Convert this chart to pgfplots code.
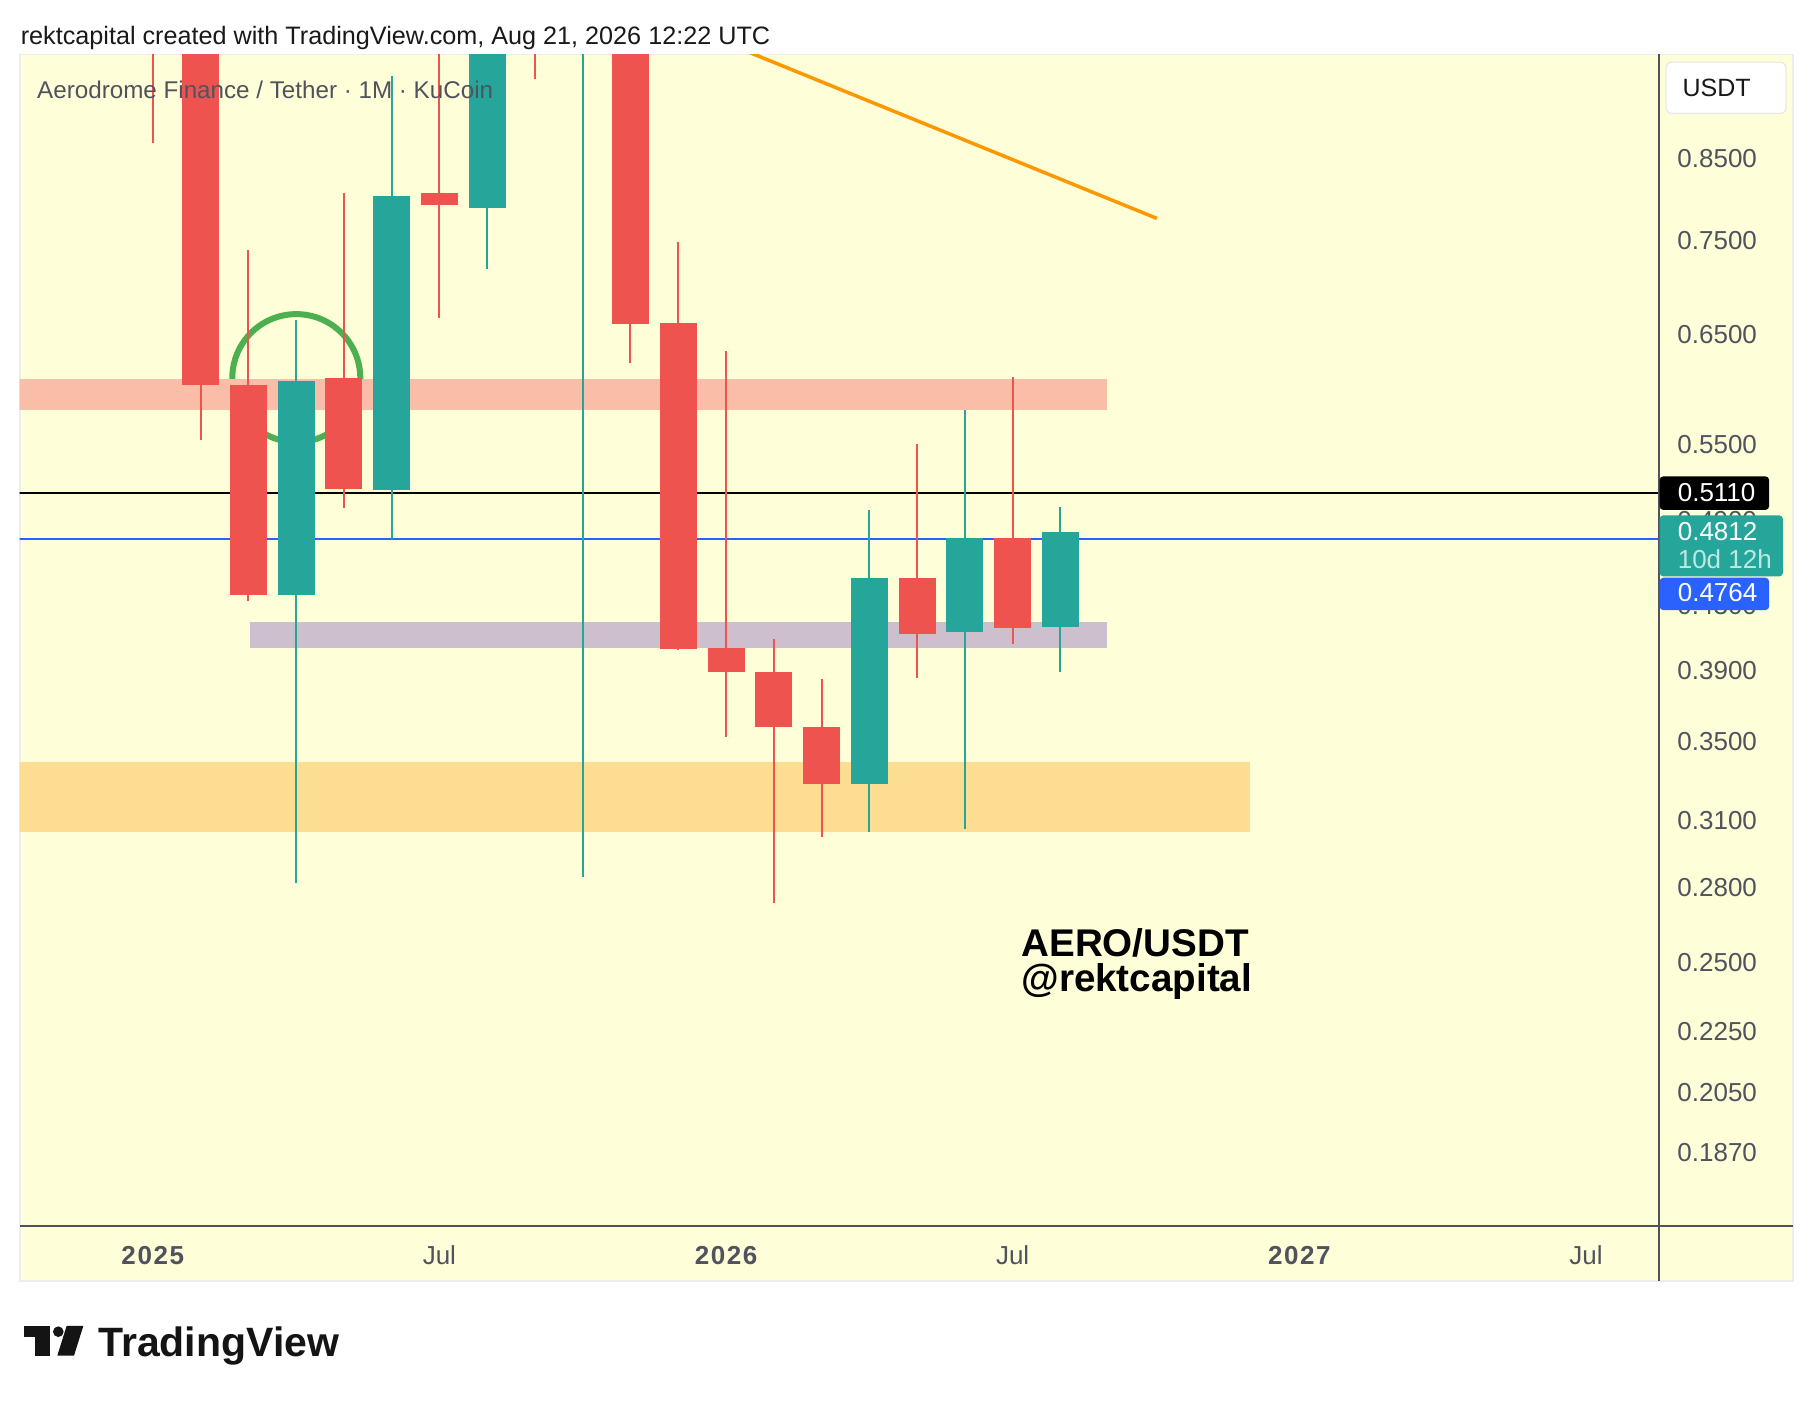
\documentclass[border=0pt]{standalone}
\usepackage{fontspec}
\setmainfont{Liberation Sans}
\usepackage{pgfplots}
\pgfplotsset{compat=1.18}
\definecolor{bg}{RGB}{254,254,216}
\definecolor{tvred}{RGB}{239,83,80}
\definecolor{tvgreen}{RGB}{38,166,154}
\definecolor{salmonzone}{RGB}{250,189,168}
\definecolor{purplezone}{RGB}{205,191,206}
\definecolor{orangezone}{RGB}{253,221,146}
\definecolor{trend}{RGB}{255,152,0}
\definecolor{circ}{RGB}{76,175,80}
\definecolor{tvblue}{RGB}{41,98,255}
\definecolor{txtgray}{RGB}{80,83,94}
\definecolor{axgray}{RGB}{80,83,94}
\definecolor{tagtxt}{RGB}{190,232,226}
\newcommand{\yr}[1]{{\bfseries\addfontfeature{LetterSpace=6}#1}}
\begin{document}
\begin{tikzpicture}[x=1pt,y=1pt]
\fill[white] (0,0) rectangle (907,701);
\fill[bg] (10,60.5) rectangle (896.5,673.8);
\draw[black!7, line width=0.6pt] (10,60.5) rectangle (896.5,673.8);
\node[anchor=base west, inner sep=0, font=\fontsize{12.6}{14}\selectfont, text=black!90] at (10.2,678.85) {rektcapital created with TradingView.com, Aug 21, 2026 12:22 UTC};

\begin{axis}[
  at={(9.85pt,88pt)}, anchor=south west,
  width=819.4pt, height=585.8pt, scale only axis,
  ymode=log, xmin=-2.785, xmax=31.52, ymin=0.1673, ymax=0.996,
  axis line style={draw=none},
  major tick length=0pt, minor tick num=0, yminorticks=false, xminorticks=false,
  ytick={0.187,0.205,0.225,0.25,0.28,0.31,0.35,0.39,0.43,0.49,0.55,0.65,0.75,0.85},
  yticklabels={0.1870,0.2050,0.2250,0.2500,0.2800,0.3100,0.3500,0.3900,0.4300,0.4900,0.5500,0.6500,0.7500,0.8500},
  yticklabel pos=right,
  yticklabel style={anchor=west, inner sep=0pt, xshift=9.25pt, font=\fontsize{13}{13}\selectfont, text=txtgray},
  xtick={0,6,12,18,24,30},
  xticklabels={\yr{2025},Jul,\yr{2026},Jul,\yr{2027},Jul},
  xticklabel style={anchor=center, inner sep=0pt, yshift=-14.75pt, font=\fontsize{13}{13}\selectfont, text=txtgray},
  unbounded coords=jump,
  clip marker paths=true,
]
% circle annotation
\addplot[only marks, mark=o, mark size=32pt, mark options={draw=circ, line width=3pt}] coordinates {(3.005,0.6084)};
% zones
\addplot[fill=salmonzone, draw=none] coordinates {(-3,0.6080) (19.98,0.6080) (19.98,0.580) (-3,0.580)};
\addplot[fill=purplezone, draw=none] coordinates {(2.03,0.4197) (19.98,0.4197) (19.98,0.4031) (2.03,0.4031)};
\addplot[fill=orangezone, draw=none] coordinates {(-3,0.3391) (22.96,0.3391) (22.96,0.305) (-3,0.305)};
% horizontal levels
\addplot[black, line width=0.9pt] coordinates {(-3,0.511) (32,0.511)};
\addplot[tvblue, line width=0.9pt] coordinates {(-3,0.4764) (32,0.4764)};
% wicks (low, high)
\addplot[tvred, line width=1pt] coordinates {
 (0,0.870) (0,1.60) (0,nan)
 (1,0.554) (1,1.20) (1,nan)
 (2,0.433) (2,0.740) (2,nan)
 (4,0.4994) (4,0.807) (4,nan)
 (6,0.6668) (6,1.10) (6,nan)
 (8,0.960) (8,1.50) (8,nan)
 (10,0.6225) (10,1.25) (10,nan)
 (11,0.402) (11,0.749) (11,nan)
 (12,0.3524) (12,0.6336) (12,nan)
 (13,0.2735) (13,0.4091) (13,nan)
 (14,0.3026) (14,0.3849) (14,nan)
 (16,0.3857) (16,0.5506) (16,nan)
 (18,0.406) (18,0.6096)};
\addplot[tvgreen, line width=1pt] coordinates {
 (3,0.282) (3,0.665) (3,nan)
 (5,0.4762) (5,0.9637) (5,nan)
 (7,0.718) (7,1.40) (7,nan)
 (9,0.2847) (9,1.45) (9,nan)
 (15,0.305) (15,0.4979) (15,nan)
 (17,0.306) (17,0.5798) (17,nan)
 (19,0.3891) (19,0.5001)};
% bodies (open, close)
\addplot[tvred, line width=18.5pt] coordinates {
 (0,1.30) (0,1.05) (0,nan)
 (1,1.05) (1,0.6025) (1,nan)
 (2,0.6025) (2,0.4376) (2,nan)
 (4,0.6086) (4,0.5137) (4,nan)
 (6,0.8066) (6,0.7925) (6,nan)
 (8,1.20) (8,1.10) (8,nan)
 (10,1.15) (10,0.661) (10,nan)
 (11,0.662) (11,0.4025) (11,nan)
 (12,0.4035) (12,0.3887) (12,nan)
 (13,0.3887) (13,0.3578) (13,nan)
 (14,0.3578) (14,0.3277) (14,nan)
 (16,0.4491) (16,0.4122) (16,nan)
 (18,0.4766) (18,0.4156)};
\addplot[tvgreen, line width=18.5pt] coordinates {
 (3,0.437) (3,0.606) (3,nan)
 (5,0.513) (5,0.8023) (5,nan)
 (7,0.788) (7,1.20) (7,nan)
 (9,1.10) (9,1.15) (9,nan)
 (15,0.3277) (15,0.4489) (15,nan)
 (17,0.4134) (17,0.4766) (17,nan)
 (19,0.4163) (19,0.4812)};
% trend line
\addplot[trend, line width=1.75pt] coordinates {(12,1.0136) (21.02,0.7759)};
\end{axis}

% axis frame lines
\draw[axgray, line width=1pt] (829.25,60.5) -- (829.25,673.8);
\draw[axgray, line width=1pt] (10,88) -- (896.5,88);

% subtitle
\node[anchor=base west, inner sep=0, font=\fontsize{12.1}{14}\selectfont, text=txtgray] at (18.4,651.8) {Aerodrome Finance / Tether · 1M · KuCoin};

% watermark
\node[anchor=base west, inner sep=0, font=\bfseries\fontsize{19.3}{19.3}\selectfont] at (510.5,222.7) {AERO/USDT};
\node[anchor=base west, inner sep=0, font=\bfseries\fontsize{19.3}{19.3}\selectfont] at (510.5,205.2) {@rektcapital};

% USDT box
\draw[black!10, fill=white, rounded corners=3pt, line width=0.5pt] (833,644.25) rectangle (893,669.9);
\node[font=\fontsize{12.5}{12.5}\selectfont, text=black!90] at (858.3,657.1) {USDT};

% price tags
\fill[black, rounded corners=2pt] (829.75,446) rectangle (884.6,462.85);
\node[anchor=west, inner sep=0, font=\fontsize{13}{13}\selectfont, text=white] at (838.7,454.6) {0.5110};
\fill[tvgreen, rounded corners=2pt] (829.75,412.75) rectangle (891.5,443.35);
\node[anchor=west, inner sep=0, font=\fontsize{13}{13}\selectfont, text=white] at (838.7,435.1) {0.4812};
\node[anchor=west, inner sep=0, font=\fontsize{13}{13}\selectfont, text=tagtxt] at (838.7,421.35) {10d 12h};
\fill[tvblue, rounded corners=2pt] (829.75,395.9) rectangle (884.6,412.15);
\node[anchor=west, inner sep=0, font=\fontsize{13}{13}\selectfont, text=white] at (838.7,404.5) {0.4764};

% TradingView logo
\fill[black!92] (12,32.65) rectangle (25,38);
\fill[black!92] (17.5,23.15) rectangle (25,38);
\fill[black!92] (29.15,35.15) circle (2.65);
\fill[black!92] (28.65,23.15) -- (37,23.15) -- (41.65,38) -- (33.3,38) -- cycle;
\node[anchor=base west, inner sep=0, font=\bfseries\fontsize{20.5}{20.5}\selectfont, text=black!92] at (49,23) {TradingView};
\end{tikzpicture}
\end{document}
